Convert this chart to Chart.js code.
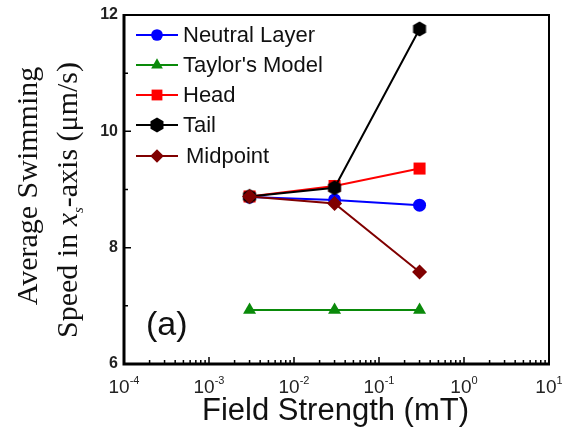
<!DOCTYPE html>
<html>
<head>
<meta charset="utf-8">
<script src="https://cdn.jsdelivr.net/npm/chart.js@4.4.0/dist/chart.umd.min.js"></script>
<style>
  html, body { margin: 0; padding: 0; background: #fff; }
  #wrap { width: 562px; height: 438px; position: relative; }
</style>
</head>
<body>
<div id="wrap"><canvas id="speedChart"></canvas></div>
<script>
// swimming speed vs applied field strength (mT)
const fieldStrength = [0.003, 0.03, 0.3];
const neutralLayer = [8.87, 8.82, 8.73];
const taylorModel = [6.93, 6.93, 6.93];
const headSpeed = [8.88, 9.06, 9.36];
const tailSpeed = [8.88, 9.03, 11.76];
const midpointSpeed = [8.88, 8.76, 7.58];
const seriesNames = ["Neutral Layer", "Taylor's Model", "Head", "Tail", "Midpoint"];
const xTickExponents = [-4, -3, -2, -1, 0, 1];
const yTicks = [6, 8, 10, 12];
const yMinorTicks = [7, 9, 11];

const SANS = "'Liberation Sans', Arial, sans-serif";
const SERIF = "'Liberation Serif', 'Times New Roman', serif";

// hexagon marker for the tail series (no built-in style for it)
function hexagonMarker(r, color) {
  const c = document.createElement("canvas");
  const s = Math.ceil(r * 2) + 3;
  c.width = s;
  c.height = s;
  const g = c.getContext("2d");
  g.fillStyle = color;
  g.beginPath();
  for (let k = 0; k < 6; k++) {
    const a = -Math.PI / 2 + (k * Math.PI) / 3;
    const px = s / 2 + r * Math.cos(a);
    const py = s / 2 + r * Math.sin(a);
    if (k === 0) g.moveTo(px, py);
    else g.lineTo(px, py);
  }
  g.closePath();
  g.fill();
  return c;
}

const toPoints = (ys) => fieldStrength.map((x, i) => ({ x, y: ys[i] }));

const seriesStyles = [
  { color: "#0000ff", pointStyle: "circle", radius: 6.5, order: 5 },
  { color: "#0a8a0a", pointStyle: "triangle", radius: 7.5, order: 4 },
  { color: "#ff0000", pointStyle: "rect", radius: 8.5, order: 3 },
  { color: "#000000", pointStyle: hexagonMarker(7.5, "#000000"), radius: 7.5, order: 2 },
  { color: "#800000", pointStyle: "rectRot", radius: 7.5, order: 1 },
];
const seriesValues = [neutralLayer, taylorModel, headSpeed, tailSpeed, midpointSpeed];

const datasets = seriesValues.map((vals, i) => {
  const st = seriesStyles[i];
  return {
    label: seriesNames[i],
    data: toPoints(vals),
    borderColor: st.color,
    backgroundColor: st.color,
    borderWidth: 2,
    pointStyle: st.pointStyle,
    pointRadius: st.radius,
    pointBorderWidth: 0,
    pointBackgroundColor: st.color,
    showLine: true,
    fill: false,
    tension: 0,
    order: st.order,
  };
});

// frame, inward ticks, labels, titles and the boxed-in legend
const decorations = {
  id: "decorations",
  afterDraw(chart) {
    const ctx = chart.ctx;
    const { left, right, top, bottom } = chart.chartArea;
    const xs = chart.scales.x;
    const ys = chart.scales.y;
    ctx.save();

    // frame
    ctx.strokeStyle = "#000";
    ctx.lineWidth = 2;
    ctx.strokeRect(left, top, right - left, bottom - top);
    ctx.lineWidth = 3;
    ctx.beginPath();
    ctx.moveTo(left, top - 1);
    ctx.lineTo(left, bottom);
    ctx.lineTo(right + 1, bottom);
    ctx.stroke();

    // x ticks (log decades + minor)
    ctx.lineWidth = 1.5;
    ctx.beginPath();
    xTickExponents.forEach((e, i) => {
      const base = Math.pow(10, e);
      const px = xs.getPixelForValue(base);
      ctx.moveTo(px, bottom);
      ctx.lineTo(px, bottom - 7);
      if (i < xTickExponents.length - 1) {
        for (let m = 2; m <= 9; m++) {
          const mx = xs.getPixelForValue(base * m);
          ctx.moveTo(mx, bottom);
          ctx.lineTo(mx, bottom - 4);
        }
      }
    });
    yTicks.forEach((v) => {
      const py = ys.getPixelForValue(v);
      ctx.moveTo(left, py);
      ctx.lineTo(left + 7, py);
    });
    yMinorTicks.forEach((v) => {
      const py = ys.getPixelForValue(v);
      ctx.moveTo(left, py);
      ctx.lineTo(left + 4, py);
    });
    ctx.stroke();

    // y tick labels
    ctx.fillStyle = "#222";
    ctx.font = "bold 16px " + SANS;
    ctx.textAlign = "right";
    ctx.textBaseline = "middle";
    yTicks.forEach((v) => {
      ctx.fillText(String(v), left - 6, ys.getPixelForValue(v));
    });

    // x tick labels: 10 with superscript exponent
    ctx.textBaseline = "alphabetic";
    ctx.textAlign = "left";
    xTickExponents.forEach((e) => {
      const px = xs.getPixelForValue(Math.pow(10, e));
      ctx.font = "19px " + SANS;
      const wBase = ctx.measureText("10").width;
      ctx.font = "11px " + SANS;
      const sup = e < 0 ? "-" + Math.abs(e) : String(e);
      const wSup = ctx.measureText(sup).width;
      const x0 = px - (wBase + wSup) / 2;
      ctx.font = "19px " + SANS;
      ctx.fillText("10", x0, bottom + 29);
      ctx.font = "11px " + SANS;
      ctx.fillText(sup, x0 + wBase, bottom + 20);
    });

    // x title
    ctx.fillStyle = "#111";
    ctx.font = "31px " + SANS;
    ctx.textAlign = "center";
    ctx.fillText("Field Strength (mT)", (left + right) / 2 - 1, 420);

    // y title, two rotated lines in serif
    ctx.textAlign = "left";
    ctx.save();
    ctx.translate(37, 186);
    ctx.rotate(-Math.PI / 2);
    ctx.font = "30px " + SERIF;
    const l1 = "Average Swimming";
    ctx.fillText(l1, -ctx.measureText(l1).width / 2, 0);
    ctx.restore();

    ctx.save();
    ctx.translate(77, 200);
    ctx.rotate(-Math.PI / 2);
    const parts = [
      { t: "Speed in ", f: "30px " + SERIF, dy: 0 },
      { t: "x", f: "italic 30px " + SERIF, dy: 0 },
      { t: "s", f: "italic 15px " + SERIF, dy: 6 },
      { t: "-axis (\u03bcm/s)", f: "30px " + SERIF, dy: 0 },
    ];
    let total = 0;
    parts.forEach((p) => {
      ctx.font = p.f;
      p.w = ctx.measureText(p.t).width;
      total += p.w;
    });
    let cx = -total / 2;
    parts.forEach((p) => {
      ctx.font = p.f;
      ctx.fillText(p.t, cx, p.dy);
      cx += p.w;
    });
    ctx.restore();

    // panel tag
    ctx.fillStyle = "#111";
    ctx.font = "34px " + SANS;
    ctx.fillText("(a)", left + 22, 335);

    // legend inside the plot
    ctx.font = "22px " + SANS;
    ctx.textBaseline = "middle";
    const rowY = [35, 65, 95, 125, 156];
    chart.data.datasets.forEach((ds, i) => {
      const y = rowY[i];
      ctx.strokeStyle = ds.borderColor;
      ctx.fillStyle = ds.borderColor;
      ctx.lineWidth = 2;
      ctx.beginPath();
      ctx.moveTo(left + 12, y);
      ctx.lineTo(left + 54, y);
      ctx.stroke();
      Chart.helpers.drawPoint(
        ctx,
        {
          pointStyle: ds.pointStyle,
          radius: ds.pointRadius * 0.9,
          rotation: 0,
          borderWidth: 0,
        },
        left + 33,
        y
      );
      ctx.fillStyle = "#111";
      ctx.fillText(ds.label, left + 59 + (i === 4 ? 3 : 0), y + 1);
    });
    ctx.restore();
  },
};

new Chart(document.getElementById("speedChart"), {
  type: "line",
  data: { datasets },
  options: {
    responsive: true,
    maintainAspectRatio: false,
    animation: false,
    layout: { padding: { left: 0, right: 13, top: 15, bottom: 0 } },
    plugins: { legend: { display: false }, tooltip: { enabled: false } },
    scales: {
      x: {
        type: "logarithmic",
        min: 1e-4,
        max: 10,
        grid: { display: false },
        border: { display: false },
        ticks: { display: false },
        afterFit: (s) => { s.height = 74; },
      },
      y: {
        type: "linear",
        min: 6,
        max: 12,
        grid: { display: false },
        border: { display: false },
        ticks: { display: false },
        afterFit: (s) => { s.width = 124; },
      },
    },
  },
  plugins: [decorations],
});
</script>
</body>
</html>
